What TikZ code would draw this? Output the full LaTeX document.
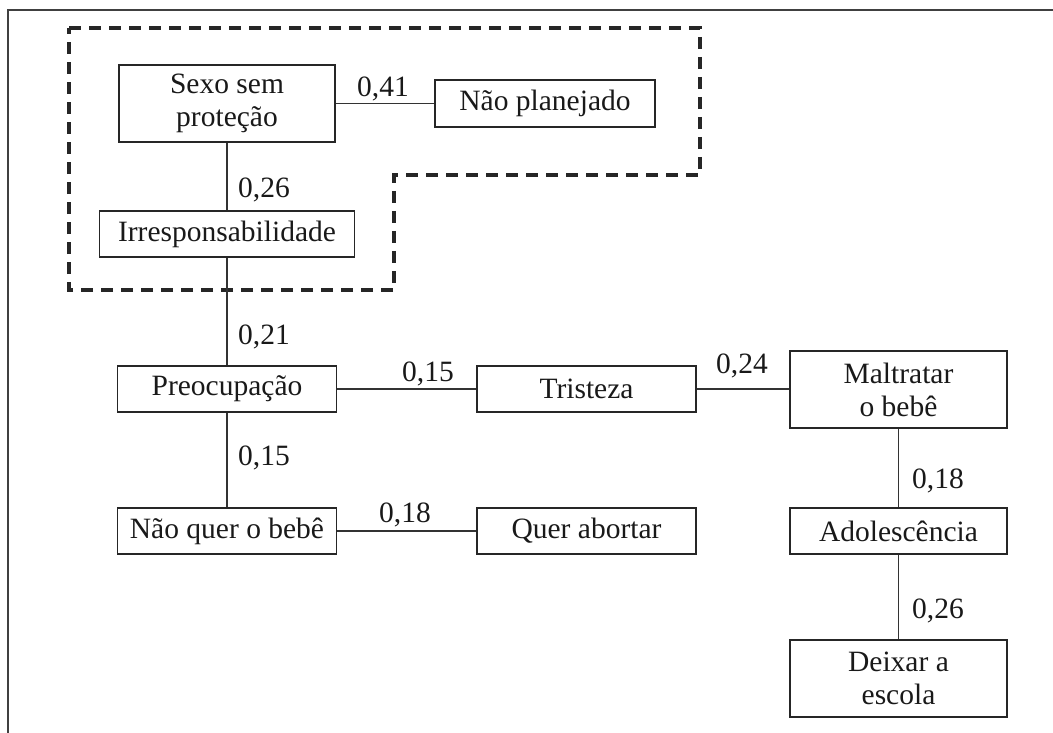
\documentclass[tikz,border=0pt]{standalone}
\usepackage{fontspec}
\setmainfont{Liberation Serif}
\begin{document}
\begin{tikzpicture}[x=1pt,y=-1pt,
  box/.style={draw=black!85, line width=1.5pt, inner sep=0pt, align=center,
    font=\fontsize{29.5}{33}\selectfont, text=black!90},
  lbl/.style={inner sep=0pt, font=\fontsize{29.5}{33}\selectfont, text=black!90},
  link/.style={draw=black!80, line width=1.4pt},
  group/.style={draw=black!85, line width=3.2pt, dash pattern=on 12pt off 8pt}]
\useasboundingbox (0,0) rectangle (1053,733);
% outer frame (only top and left visible)
\coordinate (fbl) at (8,733);
\coordinate (ftl) at (8,10);
\coordinate (ftr) at (1053,10);
\draw[black!75, line width=1.6pt] (fbl) -- (ftl) -- (ftr);
% dashed group
\draw[group] (69,28) -- (700,28) -- (700,175) -- (394,175) -- (394,290) -- (69,290) -- cycle;
% boxes
\node[box, minimum width=216pt, minimum height=77pt] (sexo) at (227,103.5) {Sexo sem\\proteção};
\node[box, minimum width=220pt, minimum height=47pt] (naoplan) at (545,103.5) {Não planejado};
\node[box, minimum width=255pt, minimum height=46pt] (irr) at (227,234) {Irresponsabilidade};
\node[box, minimum width=219pt, minimum height=46pt] (preo) at (227,389) {Preocupação};
\node[box, minimum width=219pt, minimum height=46pt] (trist) at (586.5,389) {Tristeza};
\node[box, minimum width=217pt, minimum height=77pt] (maltr) at (898.5,389.5) {Maltratar\\o bebê};
\node[box, minimum width=219pt, minimum height=46pt] (naoquer) at (227,531) {Não quer o bebê};
\node[box, minimum width=219pt, minimum height=46pt] (quer) at (586.5,531) {Quer abortar};
\node[box, minimum width=217pt, minimum height=46pt] (adol) at (898.5,531) {Adolescência};
\node[box, minimum width=217pt, minimum height=77pt] (deixar) at (898.5,678.5) {Deixar a\\escola};
% connectors
\draw[link] (sexo.east) -- (naoplan.west);
\draw[link] (sexo.south) -- (irr.north);
\draw[link] (irr.south) -- (preo.north);
\draw[link] (preo.east) -- (trist.west);
\draw[link] (trist.east) -- (maltr.west |- trist.east);
\draw[link] (preo.south) -- (naoquer.north);
\draw[link] (naoquer.east) -- (quer.west);
\draw[link] (maltr.south) -- (adol.north);
\draw[link] (adol.south) -- (deixar.north);
% labels
\node[lbl, anchor=base] (l041) at (383,97) {0,41};
\node[lbl, anchor=base west] (l026a) at (238,197) {0,26};
\node[lbl, anchor=base west] (l021) at (238,344) {0,21};
\node[lbl, anchor=base] (l015h) at (428,381) {0,15};
\node[lbl, anchor=base west] (l015v) at (238,465) {0,15};
\node[lbl, anchor=base] (l018h) at (405,522) {0,18};
\node[lbl, anchor=base] (l024) at (742,373) {0,24};
\node[lbl, anchor=base west] (l018v) at (912,488) {0,18};
\node[lbl, anchor=base west] (l026b) at (912,618) {0,26};
\end{tikzpicture}
\end{document}
